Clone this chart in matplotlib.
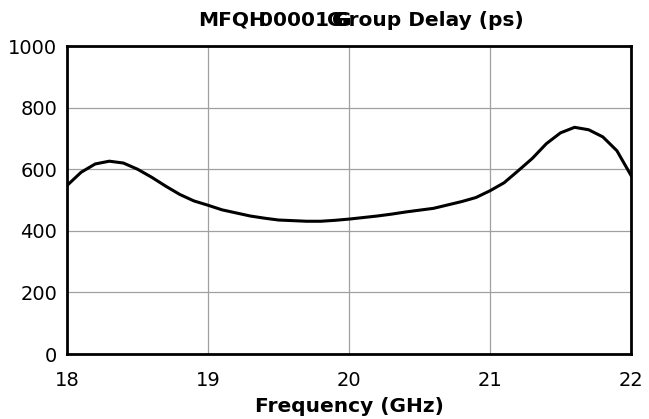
import matplotlib.pyplot as plt

plt.rcParams['font.family'] = ['DejaVu Sans']

# group delay trace
freq_ghz = [18.0, 18.1, 18.2, 18.3, 18.4, 18.5, 18.6, 18.7, 18.8, 18.9,
            19.0, 19.1, 19.2, 19.3, 19.4, 19.5, 19.6, 19.7, 19.8, 19.9,
            20.0, 20.1, 20.2, 20.3, 20.4, 20.5, 20.6, 20.7, 20.8, 20.9,
            21.0, 21.1, 21.2, 21.3, 21.4, 21.5, 21.6, 21.7, 21.8, 21.9, 22.0]
delay_ps = [547, 590, 617, 626, 620, 600, 574, 545, 518, 497,
            483, 468, 458, 448, 441, 435, 433, 431, 431, 434,
            438, 443, 448, 454, 461, 467, 473, 484, 495, 508,
            530, 556, 595, 635, 683, 718, 736, 728, 705, 660, 580]

x_ticks = [18, 19, 20, 21, 22]
y_ticks = [0, 200, 400, 600, 800, 1000]

fig = plt.figure(figsize=(6.49, 4.19), dpi=100)
ax = fig.add_axes([67 / 649, 65 / 419, 564 / 649, 308 / 419])

ax.plot(freq_ghz, delay_ps, color='black', linewidth=2.2)

ax.set_xlim(18, 22)
ax.set_ylim(0, 1000)
ax.set_xticks(x_ticks)
ax.set_yticks(y_ticks)
ax.tick_params(labelsize=14, length=0)
ax.tick_params(axis='y', pad=7)
ax.tick_params(axis='x', pad=12)
ax.grid(True, color='#a0a0a0', linewidth=0.9)
for s in ax.spines.values():
    s.set_linewidth(2)
    s.set_color('black')

ax.set_xlabel('Frequency (GHz)', fontsize=14.5, fontweight='bold', labelpad=5)

# the source squeezes the part name into the title so the glyphs overlap
ty = 1 - 20 / 419
for txt, px in [('MFQH', 198), ('00001', 259), ('G', 327), ('G', 335)]:
    fig.text(px / 649, ty, txt, fontsize=14.5, fontweight='bold', ha='left', va='center')
fig.text(524 / 649, ty, 'Group Delay (ps)', fontsize=14.5, fontweight='bold',
         ha='right', va='center')

fig.savefig('out.png', dpi=100)
